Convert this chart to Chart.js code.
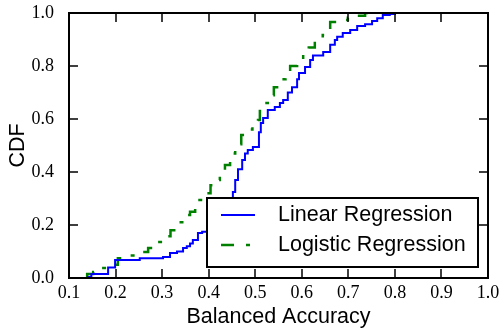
<!DOCTYPE html>
<html>
<head>
<meta charset="utf-8">
<script src="https://cdn.jsdelivr.net/npm/chart.js@4.4.1/dist/chart.umd.min.js"></script>
<style>
  html, body { margin: 0; padding: 0; background: #fff; }
  #wrap { width: 503px; height: 328px; }
</style>
</head>
<body>
<div id="wrap"><canvas id="cdf"></canvas></div>
<script>
const xTicks = [0.1, 0.2, 0.3, 0.4, 0.5, 0.6, 0.7, 0.8, 0.9, 1.0];
const yTicks = [0.0, 0.2, 0.4, 0.6, 0.8, 1.0];
const seriesNames = ['Linear Regression', 'Logistic Regression'];

// balanced accuracy / cdf pairs
const linX = [0.141, 0.148, 0.184, 0.199, 0.252, 0.302, 0.317, 0.332, 0.345, 0.353, 0.360, 0.366, 0.377, 0.386,
  0.400, 0.420, 0.435, 0.445, 0.450, 0.452, 0.457, 0.463, 0.472, 0.478, 0.484, 0.495, 0.508, 0.512, 0.517,
  0.527, 0.542, 0.553, 0.560, 0.570, 0.579, 0.590, 0.594, 0.607, 0.618, 0.624, 0.646, 0.661, 0.671, 0.676,
  0.688, 0.704, 0.719, 0.736, 0.751, 0.762, 0.774, 0.789, 0.800, 0.901];
const linY = [0.000, 0.004, 0.015, 0.040, 0.068, 0.075, 0.079, 0.094, 0.100, 0.113, 0.120, 0.130, 0.143, 0.170,
  0.175, 0.185, 0.200, 0.220, 0.250, 0.300, 0.325, 0.370, 0.410, 0.445, 0.470, 0.483, 0.494, 0.550, 0.585,
  0.604, 0.634, 0.645, 0.660, 0.672, 0.700, 0.720, 0.750, 0.774, 0.796, 0.823, 0.840, 0.853, 0.880, 0.898,
  0.910, 0.925, 0.936, 0.951, 0.958, 0.970, 0.980, 0.992, 0.996, 1.000];

const logX = [0.139, 0.152, 0.167, 0.194, 0.205, 0.225, 0.250, 0.270, 0.285, 0.302, 0.318, 0.332, 0.347, 0.360,
  0.371, 0.392, 0.404, 0.414, 0.424, 0.435, 0.446, 0.457, 0.470, 0.482, 0.494, 0.506, 0.510, 0.518, 0.527,
  0.540, 0.553, 0.565, 0.575, 0.590, 0.603, 0.615, 0.628, 0.645, 0.661, 0.682, 0.699, 0.720, 0.736, 0.751];
const logY = [0.000, 0.015, 0.023, 0.038, 0.050, 0.075, 0.085, 0.098, 0.113, 0.136, 0.158, 0.180, 0.210, 0.238,
  0.250, 0.294, 0.320, 0.350, 0.370, 0.408, 0.426, 0.470, 0.505, 0.540, 0.560, 0.585, 0.596, 0.630, 0.660,
  0.690, 0.720, 0.750, 0.774, 0.800, 0.823, 0.845, 0.870, 0.895, 0.917, 0.966, 0.974, 0.982, 0.990, 1.000];

const toPoints = (xs, ys) => xs.map((x, i) => ({ x: x, y: ys[i] }));

const sansFont = '"Liberation Sans", Arial, sans-serif';
const serifFont = '"Liberation Serif", "DejaVu Serif", serif';

// inward ticks on all four sides plus the box, matplotlib style
const frameTicks = {
  id: 'frameTicks',
  afterDraw(chart) {
    const ctx = chart.ctx;
    const a = chart.chartArea;
    const xs = chart.scales.x, ys = chart.scales.y;
    const len = 9;
    ctx.save();
    ctx.strokeStyle = '#000';
    ctx.lineWidth = 1.5;
    ctx.beginPath();
    xTicks.forEach(v => {
      const px = Math.round(xs.getPixelForValue(v));
      ctx.moveTo(px, a.bottom); ctx.lineTo(px, a.bottom - len);
      ctx.moveTo(px, a.top); ctx.lineTo(px, a.top + len);
    });
    yTicks.forEach(v => {
      const py = Math.round(ys.getPixelForValue(v));
      ctx.moveTo(a.left, py); ctx.lineTo(a.left + len, py);
      ctx.moveTo(a.right, py); ctx.lineTo(a.right - len, py);
    });
    ctx.stroke();
    ctx.lineWidth = 2;
    ctx.strokeRect(a.left, a.top, a.right - a.left, a.bottom - a.top);

    // legend box
    const bx = 207, by = 198, bw = 271, bh = 69;
    ctx.fillStyle = '#fff';
    ctx.fillRect(bx, by, bw, bh);
    ctx.strokeRect(bx, by, bw, bh);
    ctx.font = '21.5px ' + sansFont;
    ctx.textBaseline = 'middle';
    chart.data.datasets.forEach((ds, i) => {
      const cy = by + 17 + i * 30;
      ctx.strokeStyle = ds.borderColor;
      ctx.lineWidth = ds.borderWidth;
      ctx.setLineDash(ds.borderDash || []);
      ctx.beginPath();
      ctx.moveTo(bx + 14, cy); ctx.lineTo(bx + 48, cy);
      ctx.stroke();
      ctx.setLineDash([]);
      ctx.fillStyle = '#000';
      ctx.fillText(ds.label, bx + 71, cy);
    });
    ctx.restore();
  }
};

new Chart(document.getElementById('cdf'), {
  type: 'line',
  data: {
    datasets: [{
      label: seriesNames[0],
      data: toPoints(linX, linY),
      borderColor: '#0000ff',
      borderWidth: 2,
      stepped: 'after',
      pointRadius: 0,
      fill: false
    }, {
      label: seriesNames[1],
      data: toPoints(logX, logY),
      borderColor: '#008000',
      borderWidth: 2.5,
      borderDash: [13, 12, 4, 12],
      stepped: 'after',
      pointRadius: 0,
      fill: false
    }]
  },
  options: {
    responsive: true,
    maintainAspectRatio: false,
    animation: false,
    layout: { padding: { top: 13, right: 15, left: 0, bottom: 0 } },
    plugins: { legend: { display: false }, tooltip: { enabled: false } },
    scales: {
      x: {
        type: 'linear',
        min: 0.1,
        max: 1.0,
        afterFit: s => { s.height = 50; s.paddingLeft = 0; s.paddingRight = 0; },
        afterBuildTicks: s => { s.ticks = xTicks.map(v => ({ value: v })); },
        grid: { display: false },
        border: { display: false },
        ticks: {
          padding: -4,
          color: '#000',
          font: { family: serifFont, size: 18 },
          callback: v => v.toFixed(1),
          maxRotation: 0,
          autoSkip: false
        },
        title: {
          display: true,
          text: 'Balanced Accuracy',
          color: '#000',
          font: { family: sansFont, size: 21.5 },
          padding: { top: 0, bottom: -2 }
        }
      },
      y: {
        min: 0,
        max: 1.0,
        afterFit: s => { s.width = 69; s.paddingTop = 0; s.paddingBottom = 0; },
        afterBuildTicks: s => { s.ticks = yTicks.map(v => ({ value: v })); },
        grid: { display: false },
        border: { display: false },
        ticks: {
          padding: 7,
          color: '#000',
          font: { family: serifFont, size: 18 },
          callback: v => v.toFixed(1),
          autoSkip: false
        },
        title: {
          display: true,
          text: 'CDF',
          color: '#000',
          font: { family: sansFont, size: 21.5 },
          padding: { top: 5, bottom: 0 }
        }
      }
    }
  },
  plugins: [frameTicks]
});
</script>
</body>
</html>
